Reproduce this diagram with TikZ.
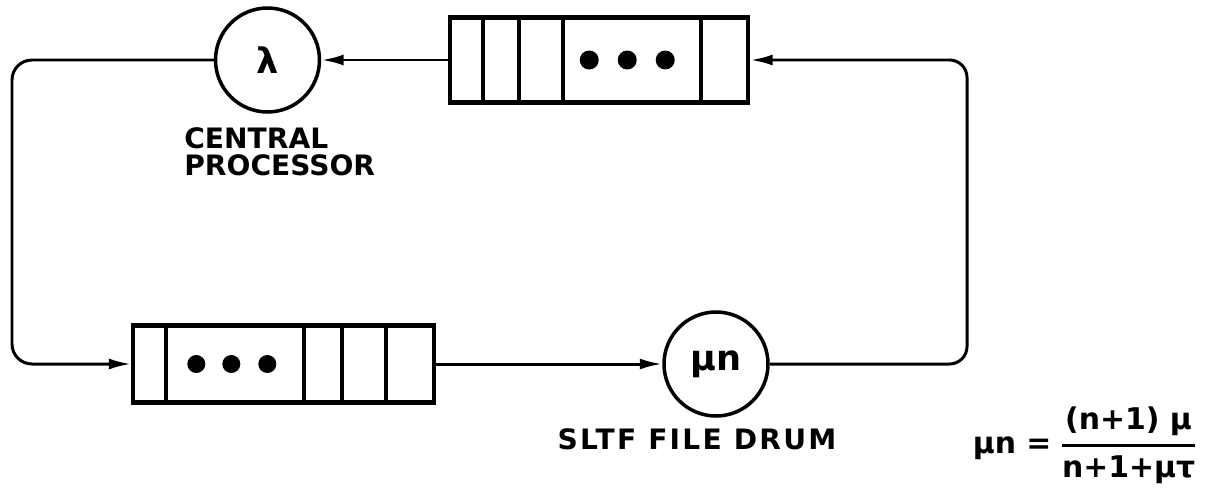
\documentclass[tikz,border=0pt]{standalone}
\usepackage{fontspec}
\newfontfamily\lettering{DejaVu Sans}
\newfontfamily\drumlettering[LetterSpace=8]{DejaVu Sans}
\usetikzlibrary{positioning,arrows.meta,calc}
\tikzset{
  flow/.style={-{Latex[length=0.45cm,width=0.22cm]},line width=1.7pt},
  server/.style={circle,draw,line width=2pt,minimum size=2.08cm,inner sep=0pt,
    font=\lettering\bfseries\fontsize{20}{24}\selectfont},
  queuebox/.style={draw,line width=2.3pt,inner sep=0pt},
  slotline/.style={line width=2.3pt},
  lbl/.style={inner sep=0pt,font=\lettering\bfseries\fontsize{16}{15.3}\selectfont}
}
\begin{document}
\begin{tikzpicture}[x=0.02cm,y=-0.02cm]
  \useasboundingbox (0,0) rectangle (1212,490);
  \node[server] (cpu) at (267.5,60) {λ};
  \node[queuebox,right=2.54cm of cpu,minimum width=5.96cm,minimum height=1.7cm] (cpuq) {};
  \node[server] (drum) at (716,364) {μn};
  \node[queuebox,left=4.52cm of drum,minimum width=6.02cm,minimum height=1.54cm] (drumq) {};
  % slots and waiting jobs
  \foreach \dx in {35,71,115,253}
    \draw[slotline] ($(cpuq.north west)+(\dx,0)$) -- ($(cpuq.south west)+(\dx,0)$);
  \foreach \dx in {141,179,217}
    \fill ($(cpuq.west)+(\dx,0)$) circle[radius=0.19cm];
  \foreach \dx in {35,173,211,255}
    \draw[slotline] ($(drumq.north west)+(\dx,0)$) -- ($(drumq.south west)+(\dx,0)$);
  \foreach \dx in {65,100,136}
    \fill ($(drumq.west)+(\dx,0)$) circle[radius=0.18cm];
  \node[lbl,align=left,anchor=north west] (cpulabel) at (184,127) {CENTRAL\\PROCESSOR};
  \node[lbl,font=\drumlettering\bfseries\fontsize{16}{19}\selectfont] (drumlabel) at (697,439) {SLTF FILE DRUM};
  \node[lbl,font=\lettering\bfseries\fontsize{17}{20}\selectfont] (rate) at (1085,445)
    {$\displaystyle\hbox{μn =}\;{\hbox{(n+1) μ}\above 1.6pt\hbox{n+1+μτ}}$};
  \coordinate (ne) at (967,60);
  \coordinate (nw) at (12,60);
  \draw[flow,rounded corners=0.35cm] (drum.east) -| (ne) -- (cpuq.east);
  \draw[flow] (cpuq.west) -- (cpu.east);
  \draw[flow,rounded corners=0.4cm] (cpu.west) -- (nw) |- (drumq.west);
  \draw[flow] (drumq.east) -- (drum.west);
\end{tikzpicture}
\end{document}
